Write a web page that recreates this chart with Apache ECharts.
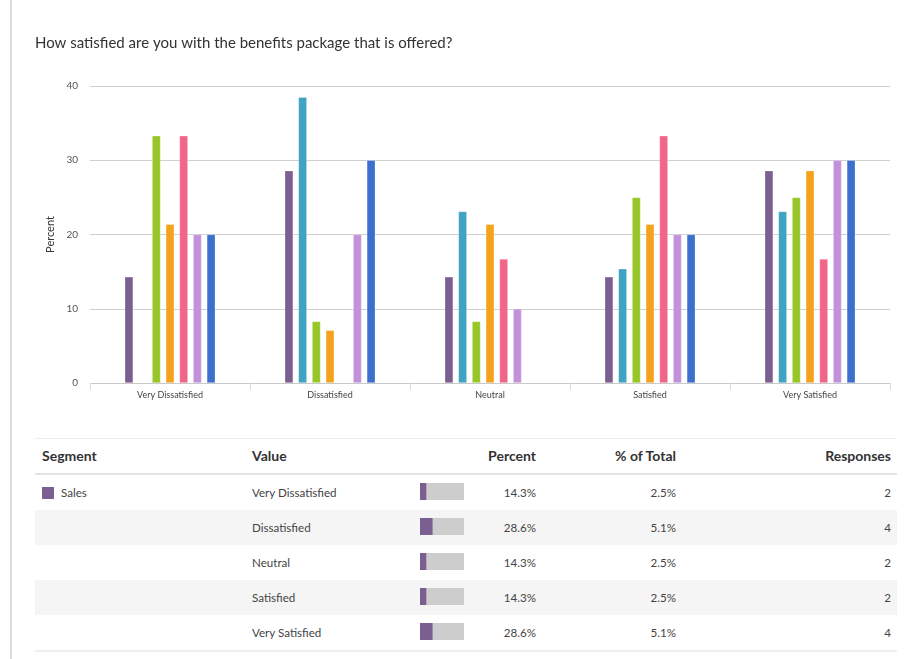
<!DOCTYPE html>
<html>
<head>
<meta charset="utf-8">
<script src="https://cdn.jsdelivr.net/npm/echarts@6/dist/echarts.min.js"></script>
<style>
  html, body { margin: 0; padding: 0; background: #fff; }
  body { width: 905px; height: 659px; position: relative; overflow: hidden; font-family: Lato, "Open Sans", sans-serif; color: #444; }
  #leftline { position: absolute; left: 10px; top: 0; width: 2px; height: 659px; background: #dcdcdc; }
  #table { position: absolute; left: 35px; top: 438px; width: 862px; }
  .row { position: relative; height: 35px; }
  .cell { position: absolute; top: 0; line-height: 35px; white-space: nowrap; }
  .hdr { border-top: 1px solid #ececec; border-bottom: 2px solid #e4e4e4; height: 34px; }
  .hdr .cell { font-weight: bold; font-size: 14px; color: #333; line-height: 34px; }
  .body .cell { font-size: 11.6px; color: #444; }
  .alt { background: #f5f5f5; }
  #tbottom { height: 0; border-top: 2px solid #eeeeee; }
  .sw { position: absolute; left: 7px; top: 12px; width: 12px; height: 12px; }
  #chart { position: absolute; left: 0; top: 0; width: 905px; height: 659px; }
</style>
</head>
<body>
<div id="leftline"></div>
<div id="table"></div>
<div id="chart"></div>
<script>
const titleText = 'How satisfied are you with the benefits package that is offered?';
const categories = ['Very Dissatisfied', 'Dissatisfied', 'Neutral', 'Satisfied', 'Very Satisfied'];
const seriesNames = ['Sales', 'Segment 2', 'Segment 3', 'Segment 4', 'Segment 5', 'Segment 6', 'Segment 7'];
const seriesColors = ['#7c5f91', '#3fa3c2', '#97c627', '#f5a31c', '#f06686', '#c291da', '#3b70cd'];
const s1 = [14.3, 28.6, 14.3, 14.3, 28.6];
const s2 = [null, 38.5, 23.1, 15.4, 23.1];
const s3 = [33.3, 8.3, 8.3, 25.0, 25.0];
const s4 = [21.4, 7.1, 21.4, 21.4, 28.6];
const s5 = [33.3, null, 16.7, 33.3, 16.7];
const s6 = [20.0, 20.0, 10.0, 20.0, 30.0];
const s7 = [20.0, 30.0, null, 20.0, 30.0];
const yTicks = [0, 10, 20, 30, 40];

const tableHeaders = ['Segment', 'Value', 'Percent', '% of Total', 'Responses'];
const tableSegment = 'Sales';
const tablePercent = [14.3, 28.6, 14.3, 14.3, 28.6];
const tableOfTotal = [2.5, 5.1, 2.5, 2.5, 5.1];
const tableResponses = [2, 4, 2, 2, 4];

// build table text
const t = document.getElementById('table');
function cell(text, style) {
  const d = document.createElement('div');
  d.className = 'cell';
  d.textContent = text;
  Object.assign(d.style, style);
  return d;
}
const colSeg = { left: '7px' };
const colVal = { left: '217px' };
const colPct = { right: (862 - 501) + 'px' };
const colTot = { right: (862 - 641) + 'px' };
const colRes = { right: (862 - 856) + 'px' };
const hdr = document.createElement('div');
hdr.className = 'row hdr';
[colSeg, colVal, colPct, colTot, colRes].forEach((c, i) => hdr.appendChild(cell(tableHeaders[i], c)));
t.appendChild(hdr);
categories.forEach((cat, i) => {
  const r = document.createElement('div');
  r.className = 'row body' + (i % 2 === 1 ? ' alt' : '');
  if (i === 0) {
    const sw = document.createElement('div');
    sw.className = 'sw';
    sw.style.background = seriesColors[0];
    r.appendChild(sw);
    r.appendChild(cell(tableSegment, { left: '26px' }));
  }
  r.appendChild(cell(cat, colVal));
  r.appendChild(cell(tablePercent[i].toFixed(1) + '%', colPct));
  r.appendChild(cell(tableOfTotal[i].toFixed(1) + '%', colTot));
  r.appendChild(cell(String(tableResponses[i]), colRes));
  t.appendChild(r);
});
const bot = document.createElement('div');
bot.id = 'tbottom';
t.appendChild(bot);

const allSeries = [s1, s2, s3, s4, s5, s6, s7];
const chart = echarts.init(document.getElementById('chart'), null, { renderer: 'canvas' });
const barSeries = allSeries.map((d, i) => ({
  name: seriesNames[i],
  type: 'bar',
  xAxisIndex: 0,
  yAxisIndex: 0,
  data: d.map(v => v === null ? '-' : v),
  barWidth: 8.5,
  barGap: '61%',
  itemStyle: { color: seriesColors[i], borderColor: 'rgba(255,255,255,0.45)', borderWidth: 0.6 },
  silent: true
}));
barSeries.push({
  name: 'mini',
  type: 'bar',
  xAxisIndex: 1,
  yAxisIndex: 1,
  data: tablePercent,
  barWidth: 17,
  showBackground: true,
  backgroundStyle: { color: '#cdcdcd' },
  itemStyle: { color: seriesColors[0] },
  silent: true
});

chart.setOption({
  animation: false,
  textStyle: { fontFamily: 'Lato, "Open Sans", sans-serif' },
  title: {
    text: titleText,
    left: 35,
    top: 36,
    padding: 0,
    textStyle: { fontSize: 15, fontWeight: 'normal', color: '#333', fontFamily: 'Lato' }
  },
  grid: [
    { left: 90, top: 86, width: 800, height: 297 },
    { left: 420, top: 474, width: 44, height: 175 }
  ],
  xAxis: [
    {
      gridIndex: 0,
      type: 'category',
      data: categories,
      axisLine: { lineStyle: { color: '#c8c8c8', width: 1 } },
      axisTick: { show: true, length: 7, lineStyle: { color: '#d8dde8' } },
      axisLabel: { fontSize: 9, color: '#444', margin: 8, fontFamily: 'Lato' }
    },
    {
      gridIndex: 1,
      type: 'value',
      min: 0,
      max: 100,
      show: false
    }
  ],
  yAxis: [
    {
      gridIndex: 0,
      type: 'value',
      min: yTicks[0],
      max: yTicks[yTicks.length - 1],
      interval: 10,
      name: 'Percent',
      nameLocation: 'middle',
      nameGap: 25,
      nameTextStyle: { fontSize: 11, color: '#333', fontFamily: 'Lato' },
      axisLine: { show: false },
      axisTick: { show: false },
      axisLabel: { fontSize: 10, color: '#555', margin: 12, fontFamily: 'Lato' },
      splitLine: { lineStyle: { color: '#d0d0d0', width: 1 } }
    },
    {
      gridIndex: 1,
      type: 'category',
      data: categories,
      inverse: true,
      show: false
    }
  ],
  series: barSeries
});
</script>
</body>
</html>
